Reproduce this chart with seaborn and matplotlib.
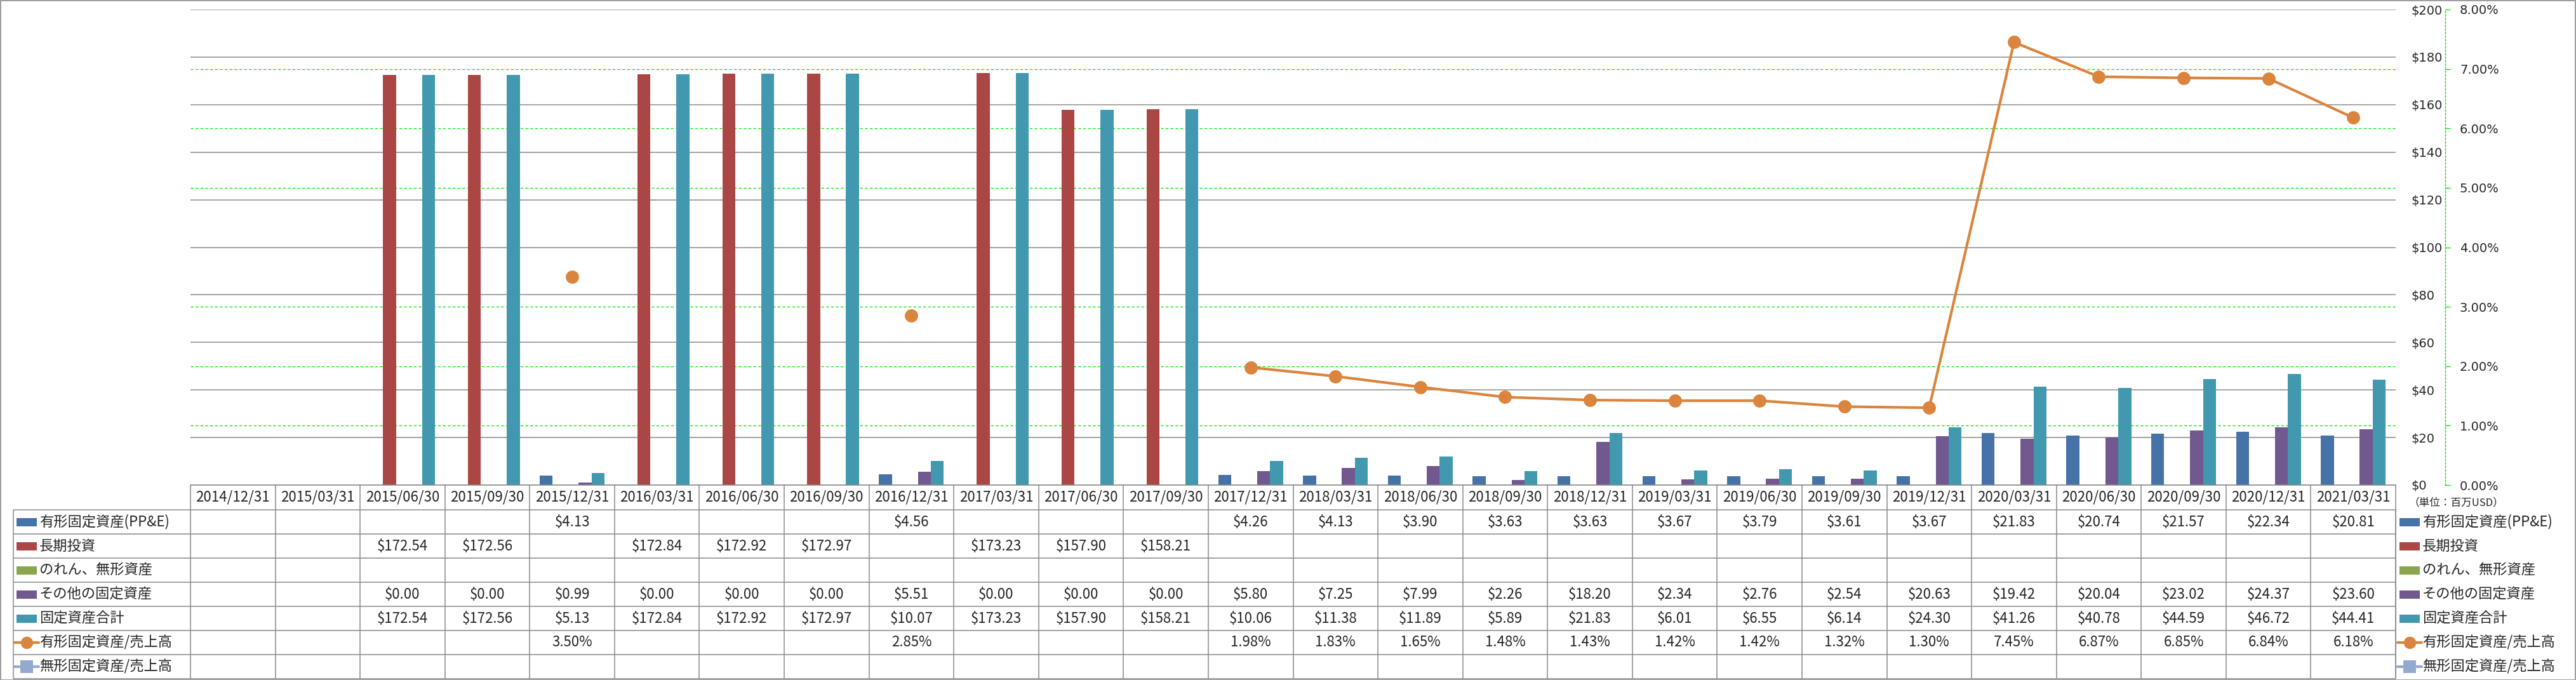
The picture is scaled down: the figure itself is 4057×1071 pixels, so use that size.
import numpy as np
import pandas as pd
import matplotlib
matplotlib.use("Agg")
import matplotlib.pyplot as plt
import matplotlib.transforms as mtrans
from matplotlib.patches import Rectangle
from matplotlib.ticker import FixedLocator
import seaborn as sns

# ---------------- data ----------------
dates = ['2014/12/31', '2015/03/31', '2015/06/30', '2015/09/30', '2015/12/31',
         '2016/03/31', '2016/06/30', '2016/09/30', '2016/12/31',
         '2017/03/31', '2017/06/30', '2017/09/30', '2017/12/31',
         '2018/03/31', '2018/06/30', '2018/09/30', '2018/12/31',
         '2019/03/31', '2019/06/30', '2019/09/30', '2019/12/31',
         '2020/03/31', '2020/06/30', '2020/09/30', '2020/12/31', '2021/03/31']
nan = np.nan
ppe = [nan, nan, nan, nan, 4.13, nan, nan, nan, 4.56, nan, nan, nan, 4.26,
       4.13, 3.90, 3.63, 3.63, 3.67, 3.79, 3.61, 3.67,
       21.83, 20.74, 21.57, 22.34, 20.81]
long_inv = [nan, nan, 172.54, 172.56, nan, 172.84, 172.92, 172.97, nan,
            173.23, 157.90, 158.21, nan, nan, nan, nan, nan,
            nan, nan, nan, nan, nan, nan, nan, nan, nan]
goodwill = [nan] * 26
other = [nan, nan, 0.00, 0.00, 0.99, 0.00, 0.00, 0.00, 5.51, 0.00, 0.00, 0.00, 5.80,
         7.25, 7.99, 2.26, 18.20, 2.34, 2.76, 2.54, 20.63,
         19.42, 20.04, 23.02, 24.37, 23.60]
total = [nan, nan, 172.54, 172.56, 5.13, 172.84, 172.92, 172.97, 10.07,
         173.23, 157.90, 158.21, 10.06, 11.38, 11.89, 5.89, 21.83,
         6.01, 6.55, 6.14, 24.30, 41.26, 40.78, 44.59, 46.72, 44.41]
ppe_ratio = [nan, nan, nan, nan, 3.50, nan, nan, nan, 2.85, nan, nan, nan, 1.98,
             1.83, 1.65, 1.48, 1.43, 1.42, 1.42, 1.32, 1.30,
             7.45, 6.87, 6.85, 6.84, 6.18]
intang_ratio = [nan] * 26

bar_names = ['有形固定資産(PP&E)', '長期投資', 'のれん、無形資産', 'その他の固定資産', '固定資産合計']
bar_values = [ppe, long_inv, goodwill, other, total]
bar_colors = ['#4572A7', '#AA4643', '#89A54E', '#71588F', '#4198AF']
line_names = ['有形固定資産/売上高', '無形固定資産/売上高']
line_values = [ppe_ratio, intang_ratio]
line_colors = ['#DB843D', '#93A9CF']
usd_ticks = list(range(0, 201, 20))
pct_ticks = list(range(0, 9))
unit_label = '（単位：百万USD）'

# ---------------- style ----------------
sns.set_style('white')
plt.rcParams['font.family'] = ['DejaVu Sans', 'Noto Sans CJK JP']
JP = ['Noto Sans CJK JP', 'DejaVu Sans']
GRAY = '#8a8a8a'
GREEN = '#00f000'

W, H = 4057, 1071
L, R, T, B = 300, 3773, 15, 764
HDR = 39
ROW = 38

fig = plt.figure(figsize=(W / 100, H / 100), dpi=100)
ov = fig.add_axes([0, 0, 1, 1], zorder=0)
ov.set_xlim(0, W)
ov.set_ylim(H, 0)
ov.axis('off')

rect = [L / W, 1 - B / H, (R - L) / W, (B - T) / H]
ax = fig.add_axes(rect, zorder=1)

# ---------------- bars ----------------
bar_df = pd.DataFrame({
    'date': np.tile(dates, len(bar_names)),
    'series': np.repeat(bar_names, len(dates)),
    'value': np.concatenate([np.asarray(v, float) for v in bar_values]),
})
sns.barplot(data=bar_df, x='date', y='value', hue='series', order=dates,
            hue_order=bar_names, palette=bar_colors, width=0.764, saturation=1,
            errorbar=None, linewidth=0, edgecolor='none', legend=False, ax=ax)
n = len(dates)
ax.set_xlim(-0.5, n - 0.5)
ax.set_ylim(usd_ticks[0], usd_ticks[-1])
ax.set_xlabel('')
ax.set_ylabel('')
ax.tick_params(axis='x', length=0, labelbottom=False)
ax.yaxis.tick_right()
ax.set_yticks(usd_ticks)
ax.set_yticklabels([f'${v}' for v in usd_ticks])
ax.tick_params(axis='y', which='major', length=0, pad=24 * 0.72, labelsize=14)
scale = usd_ticks[-1] / pct_ticks[-1]
ax.yaxis.set_minor_locator(FixedLocator([p * scale for p in pct_ticks[1:-1]]))
ax.tick_params(axis='y', which='minor', length=0)
ax.grid(False)
ax.grid(True, which='major', axis='y', color=GRAY, linewidth=1.1, linestyle='-')
ax.grid(True, which='minor', axis='y', color=GREEN, linewidth=1.0, linestyle=(0, (3, 2.5)))
ax.set_axisbelow(True)
for s in ['top', 'left', 'right']:
    ax.spines[s].set_visible(False)
ax.spines['bottom'].set_color(GRAY)
ax.spines['bottom'].set_linewidth(1.1)
ax.patch.set_visible(False)

# ---------------- ratio line (secondary axis) ----------------
ax2 = fig.add_axes(rect, zorder=2)
ax2.patch.set_visible(False)
line_df = pd.DataFrame({'pos': np.arange(n), 'ratio': ppe_ratio}).dropna()
line_df['run'] = (line_df['pos'].diff() != 1).cumsum()
sns.lineplot(data=line_df, x='pos', y='ratio', units='run', estimator=None,
             sort=False, color=line_colors[0], linewidth=3, marker='o',
             markersize=15, markeredgewidth=0, legend=False, ax=ax2)
ax2.set_xlim(-0.5, n - 0.5)
ax2.set_ylim(pct_ticks[0], pct_ticks[-1])
ax2.xaxis.set_visible(False)
ax2.set_ylabel('')
ax2.yaxis.tick_right()
ax2.set_yticks(pct_ticks)
ax2.set_yticklabels([f'{v:.2f}%' for v in pct_ticks])
for s in ['top', 'left', 'bottom']:
    ax2.spines[s].set_visible(False)
ax2.spines['right'].set_position(('outward', 78 * 0.72))
ax2.spines['right'].set_color(GREEN)
ax2.spines['right'].set_linestyle((0, (2, 2)))
ax2.spines['right'].set_linewidth(1.0)
ax2.tick_params(axis='y', direction='out', length=8 * 0.72, width=1.0,
                color=GREEN, pad=15 * 0.72, labelsize=14)
ax2.grid(False)

# ---------------- data table ----------------
blend = mtrans.blended_transform_factory(ax.transData, ov.transData)
y_hdr = B + HDR
row_tops = [y_hdr + ROW * k for k in range(len(bar_names) + len(line_names) + 1)]
y_bot = row_tops[-1]
LBL_L = 21
ov.hlines(row_tops, LBL_L, R, colors=GRAY, linewidth=1.1)
ov.vlines([LBL_L, R], y_hdr, y_bot, colors=GRAY, linewidth=1.1)
ov.vlines(np.arange(n + 1) - 0.5, B, y_bot, colors=GRAY, linewidth=1.1, transform=blend)

for i, d in enumerate(dates):
    ov.text(i, B + HDR / 2, d, transform=blend, ha='center', va='center',
            fontsize=16, family=JP)

all_names = bar_names + line_names
all_values = bar_values + line_values
kinds = ['bar'] * len(bar_names) + ['o', 's']
all_colors = bar_colors + line_colors
for k, (name, vals, kind, col) in enumerate(zip(all_names, all_values, kinds, all_colors)):
    cy = row_tops[k] + ROW / 2
    fmt = (lambda v: f'${v:.2f}') if kind == 'bar' else (lambda v: f'{v:.2f}%')
    for i, v in enumerate(vals):
        if not np.isnan(v):
            ov.text(i, cy, fmt(v), transform=blend, ha='center', va='center',
                    fontsize=16, family=JP)
    for x0, tx in [(26, 62), (3779, 3815)]:
        if kind == 'bar':
            ov.add_patch(Rectangle((x0, cy - 6.5), 32, 13, color=col, lw=0))
        else:
            ov.plot([x0 - 3, x0 + 35], [cy, cy], color=col, lw=3, solid_capstyle='round')
            ov.plot([x0 + 16], [cy], marker=kind, color=col, ms=14, mew=0)
        ov.text(tx, cy, name, ha='left', va='center', fontsize=16, family=JP)

ov.text(3793, 792, unit_label, ha='left', va='center', fontsize=12, family=JP)
ov.add_patch(Rectangle((0.5, 0.5), W - 1, H - 1, fill=False, ec='#8c8c8c', lw=1.2))

fig.savefig('out.png', dpi=100, facecolor='white')
